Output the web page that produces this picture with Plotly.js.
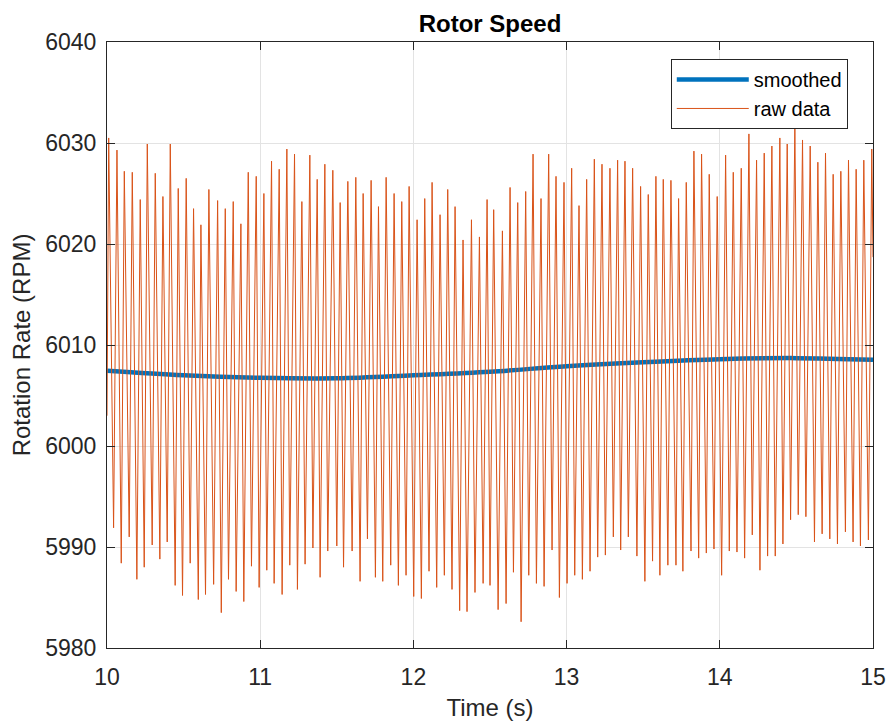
<!DOCTYPE html>
<html>
<head>
<meta charset="utf-8">
<script src="https://cdn.plot.ly/plotly-3.0.1.min.js"></script>
<style>html,body{margin:0;padding:0;background:#fff;}#chart{width:890px;height:725px;}</style>
</head>
<body>
<div id="chart"></div>
<script>
// ---- data ----
const peakTimes = [
  10.011,10.065,10.113,10.165,10.217,10.263,10.315,10.365,10.413,10.465,
  10.517,10.565,10.613,10.665,10.722,10.772,10.824,10.874,10.922,10.974,
  11.024,11.074,11.124,11.174,11.224,
  11.272,11.324,11.372,11.422,11.474,11.522,11.572,11.624,11.672,11.724,
  11.772,11.822,11.874,11.924,11.972,12.024,12.074,12.122,12.174,12.224,
  12.272,12.324,12.379,12.431,12.481,12.524,12.581,12.631,12.681,12.733,
  12.781,12.833,12.883,12.931,12.983,13.033,13.081,13.131,13.181,13.231,13.283,13.333,
  13.381,13.431,13.483,13.533,13.583,13.631,13.681,13.731,13.781,13.831,
  13.881,13.931,13.983,14.038,14.088,14.140,14.190,14.240,14.290,14.340,14.392,14.440,14.490,
  14.540,14.590,14.640,14.690,14.740,14.790,14.840,14.890,14.940,14.992
];
const peakRPM = [
  6030.5,6029.3,6027.2,6027.1,6024.4,6029.9,6027.0,6024.7,6029.9,6025.5,
  6026.5,6023.5,6021.9,6025.4,6024.3,6023.5,6024.2,6022.0,6027.1,6026.7,
  6025.0,6028.2,6027.4,6029.4,6028.9,
  6024.2,6028.8,6026.4,6027.9,6027.3,6024.1,6026.2,6026.6,6025.0,6026.3,
  6023.7,6026.6,6025.0,6024.2,6025.7,6022.4,6024.5,6026.1,6022.9,6025.4,
  6023.7,6020.4,6022.4,6020.7,6024.4,6023.4,6021.3,6025.6,6024.1,6025.2,
  6028.9,6024.5,6028.9,6026.7,6026.1,6027.5,6023.8,6026.4,6028.4,6027.9,6027.5,6028.3,
  6028.2,6027.5,6025.7,6024.9,6026.7,6026.4,6026.3,6024.5,6026.1,6029.2,
  6028.9,6026.9,6024.7,6028.8,6027.1,6027.5,6030.9,6028.3,6029.0,6029.7,6030.5,6029.9,6031.9,
  6030.3,6029.7,6028.1,6029.0,6026.9,6027.2,6028.3,6027.4,6028.3,6029.4
];
const troughTimes = [
  10.043,10.093,10.145,10.195,10.243,10.295,10.345,10.393,10.445,10.493,
  10.543,10.596,10.643,10.696,10.746,10.793,10.843,10.893,10.943,10.993,
  11.043,11.091,11.143,11.193,11.243,
  11.293,11.344,11.391,11.441,11.500,11.544,11.600,11.652,11.700,11.752,
  11.800,11.852,11.902,11.952,12.002,12.052,12.102,12.152,12.202,
  12.252,12.302,12.350,12.402,12.455,12.500,12.553,12.605,12.653,12.703,
  12.753,12.803,12.853,12.905,12.953,13.003,13.053,13.103,13.153,13.203,13.253,13.305,
  13.353,13.403,13.459,13.511,13.561,13.609,13.661,13.714,13.759,13.812,
  13.862,13.912,13.962,14.012,14.062,14.112,14.162,14.212,14.262,14.312,14.362,14.412,14.462,14.512,
  14.562,14.618,14.668,14.718,14.768,14.820,14.870,14.918,14.970
];
const troughRPM = [
  5991.9,5988.4,5991.0,5986.8,5988.0,5990.2,5988.8,5990.5,5986.2,5985.2,
  5988.4,5984.8,5985.3,5986.3,5983.5,5986.8,5985.6,5984.6,5988.1,5986.0,
  5987.7,5986.4,5985.3,5988.2,5985.8,
  5988.3,5989.9,5987.0,5989.6,5990.1,5988.0,5989.6,5986.6,5990.8,5987.0,
  5986.6,5988.2,5986.2,5987.2,5985.1,5984.9,5987.6,5986.0,5987.2,
  5985.8,5983.7,5983.6,5985.5,5986.4,5986.2,5983.8,5984.4,5987.5,5982.6,
  5987.2,5986.4,5986.1,5989.7,5985.0,5986.4,5987.2,5986.8,5987.6,5989.0,5989.2,5991.0,
  5989.7,5991.0,5989.1,5986.6,5988.6,5987.2,5988.2,5988.2,5987.6,5989.6,
  5988.9,5989.4,5989.8,5987.2,5989.6,5989.5,5988.9,5991.2,5987.7,5989.1,5989.1,5990.3,5992.7,5993.2,
  5993.0,5990.5,5991.3,5990.8,5990.3,5991.5,5990.5,5990.1,5990.7
];
const edgeTimes = [10.0, 15.0];
const edgeRPM = [6003.0, 6018.7];

const smoothTimes = [10, 10.5, 11, 11.5, 12, 12.5, 13, 13.5, 14, 14.5, 15];
const smoothRPM = [6007.45, 6007.0, 6006.75, 6006.7, 6007.0, 6007.35, 6007.9, 6008.3, 6008.6, 6008.7, 6008.55];

const xTicks = [10, 11, 12, 13, 14, 15];
const yTicks = [5980, 5990, 6000, 6010, 6020, 6030, 6040];

// ---- merge raw samples in time order ----
const rawPts = [];
edgeTimes.forEach((t, i) => rawPts.push([t, edgeRPM[i]]));
peakTimes.forEach((t, i) => rawPts.push([t, peakRPM[i]]));
troughTimes.forEach((t, i) => rawPts.push([t, troughRPM[i]]));
rawPts.sort((a, b) => a[0] - b[0]);
const rawX = rawPts.map(p => p[0]);
const rawY = rawPts.map(p => p[1]);

const FONT = 'Liberation Sans, Arial, Helvetica, sans-serif';
const AX = '#262626';

const traces = [
  {x: smoothTimes, y: smoothRPM, type: 'scatter', mode: 'lines', name: 'smoothed',
   line: {color: '#0072BD', width: 4.5, shape: 'spline'}},
  {x: rawX, y: rawY, type: 'scatter', mode: 'lines', name: 'raw data',
   line: {color: '#D95319', width: 1}}
];

const axisCommon = {
  showline: true, linecolor: AX, linewidth: 1, mirror: 'ticks',
  ticks: 'inside', ticklen: 8, tickwidth: 1, tickcolor: AX,
  showgrid: true, gridcolor: '#e3e3e3', gridwidth: 1, zeroline: false,
  tickfont: {family: FONT, size: 23, color: AX}
};

const layout = {
  width: 890, height: 725,
  margin: {l: 107, r: 17, t: 42, b: 77, pad: 0},
  paper_bgcolor: '#ffffff', plot_bgcolor: '#ffffff',
  font: {family: FONT, color: AX},
  title: {text: '<b>Rotor Speed</b>', font: {family: FONT, size: 24, color: '#000000'},
          xref: 'paper', x: 0.5, xanchor: 'center', yref: 'container', y: 0.967, yanchor: 'middle'},
  xaxis: Object.assign({}, axisCommon, {
    range: [10, 15], tickvals: xTicks, ticktext: xTicks.map(String), ticklabelstandoff: 8,
    title: {text: 'Time (s)', font: {family: FONT, size: 24, color: AX}, standoff: 10}
  }),
  yaxis: Object.assign({}, axisCommon, {
    range: [5980, 6040], tickvals: yTicks, ticktext: yTicks.map(String), ticklabelstandoff: 5,
    title: {text: 'Rotation Rate (RPM)', font: {family: FONT, size: 24, color: AX}, standoff: 7}
  }),
  showlegend: true,
  legend: {x: 0.736, y: 0.972, xanchor: 'left', yanchor: 'top',
           bgcolor: '#ffffff', bordercolor: AX, borderwidth: 1,
           font: {family: FONT, size: 20, color: '#000000'}, itemwidth: 72, tracegroupgap: 0}
};

Plotly.newPlot('chart', traces, layout, {staticPlot: true, displayModeBar: false});
</script>
</body>
</html>
